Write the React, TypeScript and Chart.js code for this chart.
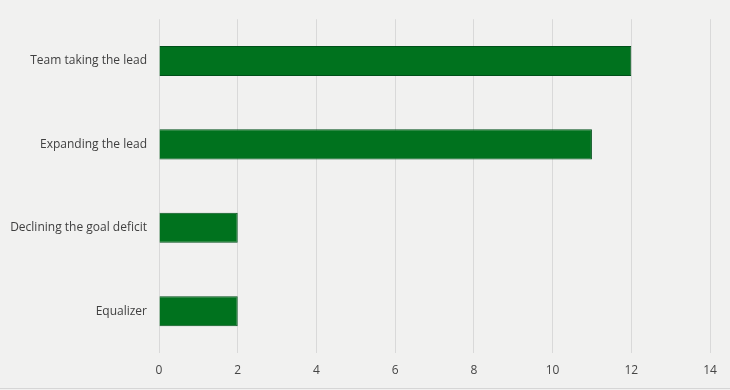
import React, { useEffect, useRef } from "react";
import { Chart, registerables } from "chart.js";

Chart.register(...registerables);

const categories = ["Team taking the lead", "Expanding the lead", "Declining the goal deficit", "Equalizer"];
const values = [12, 11, 2, 2];
const xTicks = [0, 2, 4, 6, 8, 10, 12, 14];

export default function App() {
  const ref = useRef<HTMLCanvasElement>(null);
  useEffect(() => {
    document.body.style.margin = "0";
    const font = { family: "'Open Sans', 'Noto Sans', sans-serif", size: 12 };
    const chart = new Chart(ref.current!, {
      type: "bar",
      data: {
        labels: categories,
        datasets: [
          {
            data: values,
            backgroundColor: "#00721E",
            borderColor: "#00501A",
            borderWidth: 1,
            barPercentage: 0.36,
            categoryPercentage: 1,
          },
        ],
      },
      options: {
        indexAxis: "y",
        animation: false,
        responsive: false,
        maintainAspectRatio: false,
        layout: { padding: { top: 16, right: 20, left: 0, bottom: 0 } },
        plugins: { legend: { display: false }, tooltip: { enabled: false } },
        scales: {
          x: {
            min: 0,
            max: 14,
            afterBuildTicks: (s: any) => {
              s.ticks = xTicks.map((v) => ({ value: v }));
            },
            afterFit: (s: any) => {
              s.height = 37;
            },
            grid: { color: "#d9d9d9", drawTicks: false, lineWidth: 1 },
            border: { display: false },
            ticks: { color: "#454545", font, padding: 10 },
          },
          y: {
            afterFit: (s: any) => {
              s.width = 159;
            },
            grid: { display: false, drawTicks: false },
            border: { display: false },
            ticks: { color: "#404040", font, padding: 12 },
          },
        },
      },
    });
    return () => chart.destroy();
  }, []);
  return (
    <div style={{ position: "relative", width: 730, height: 390, background: "#f1f1f0" }}>
      <canvas ref={ref} width={730} height={390} style={{ display: "block" }} />
      <div style={{ position: "absolute", left: 0, top: 388, width: 730, height: 0, borderTop: "1px solid #d6d6d6" }} />
    </div>
  );
}
